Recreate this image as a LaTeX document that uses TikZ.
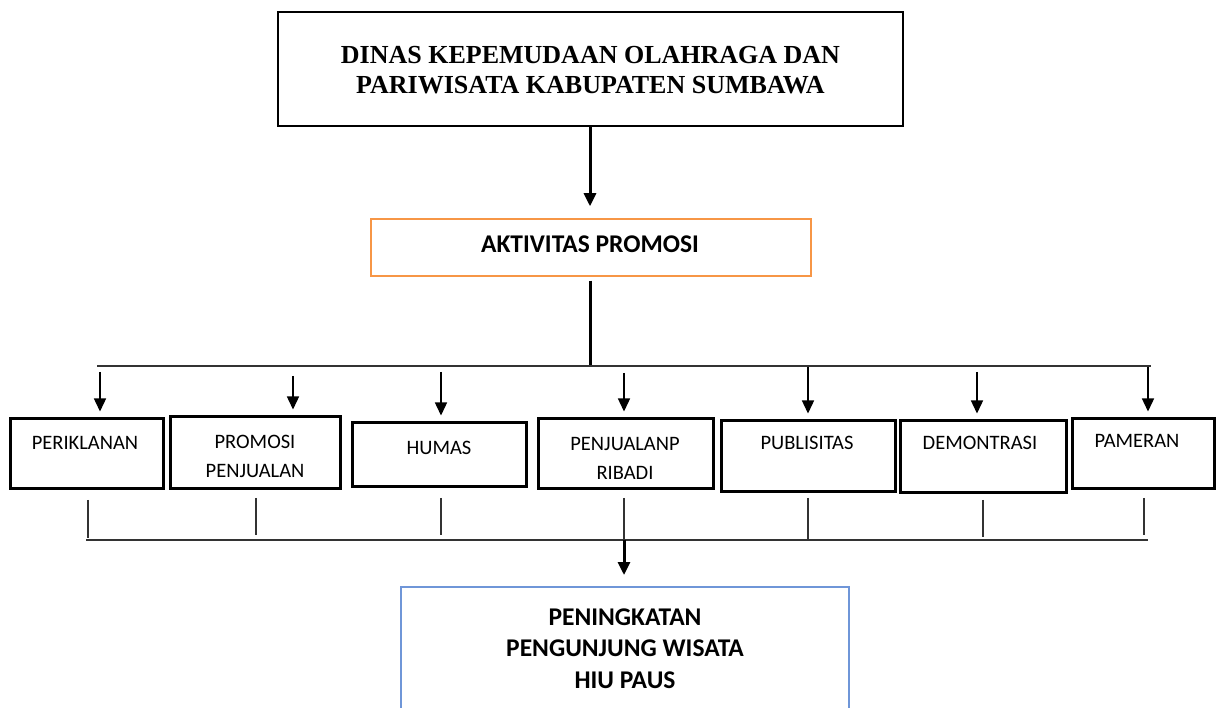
\documentclass[tikz,border=0pt]{standalone}
\usepackage{fontspec}
\setmainfont{Liberation Serif}
\newfontfamily\calfont{Carlito}
\usetikzlibrary{arrows.meta}
\definecolor{orangeb}{RGB}{247,150,70}
\definecolor{blueb}{RGB}{111,150,216}
\tikzset{
  boxk/.style={draw=black, line width=3pt, inner sep=0pt},
  lbl/.style={font=\calfont\fontsize{20.5}{29}\selectfont, align=center, anchor=base, inner sep=0pt},
  blbl/.style={font=\calfont\bfseries\fontsize{25.5}{31.5}\selectfont, align=center, anchor=base, inner sep=0pt},
  thin/.style={line width=1.4pt, draw=black!80},
  arr/.style={line width=1.4pt, -{Triangle[length=13pt,width=12pt]}, shorten >=6pt},
  thickarr/.style={line width=3pt, -{Triangle[length=13pt,width=12pt]}},
}
\begin{document}
\begin{tikzpicture}[x=1pt,y=-1pt]
\useasboundingbox (0,0) rectangle (1219,708);
\clip (0,0) rectangle (1219,708);
% top box
\node[draw=black, line width=1.5pt, minimum width=625pt, minimum height=114pt, inner sep=0pt] (top) at (590.5,69) {};
\node[font=\bfseries\fontsize{26}{30}\selectfont, align=center, inner sep=0pt] (toptext) at (590.5,70.5)
  {DINAS KEPEMUDAAN OLAHRAGA DAN\\PARIWISATA KABUPATEN SUMBAWA};
% aktivitas
\node[draw=orangeb, line width=1.5pt, minimum width=440pt, minimum height=57pt, inner sep=0pt] (akt) at (591,247.5) {};
\node[blbl] (akttext) at (590,252.5) {AKTIVITAS PROMOSI};
% boxes
\node[boxk, minimum width=153pt, minimum height=70pt] (b1) at (86.5,454) {};
\node[boxk, minimum width=170pt, minimum height=72pt] (b2) at (255,453) {};
\node[boxk, minimum width=174pt, minimum height=64pt] (b3) at (439,455) {};
\node[boxk, minimum width=175pt, minimum height=70pt] (b4) at (625.5,454) {};
\node[boxk, minimum width=174pt, minimum height=71pt] (b5) at (808,456.5) {};
\node[boxk, minimum width=166pt, minimum height=72pt] (b6) at (983,457) {};
\node[boxk, minimum width=142pt, minimum height=70pt] (b7) at (1143,454) {};
\node[lbl] at (85,450) {PERIKLANAN};
\node[lbl] at (255,478) {PROMOSI\\PENJUALAN};
\node[lbl] at (439,455) {HUMAS};
\node[lbl] at (625,480) {PENJUALANP\\RIBADI};
\node[lbl] at (807,450) {PUBLISITAS};
\node[lbl] at (980,450) {DEMONTRASI};
\node[lbl] at (1137,448) {PAMERAN};
% bottom box
\node[draw=blueb, line width=1.5pt, minimum width=448pt, minimum height=160pt, inner sep=0pt, anchor=north] (bot) at (625,586) {};
\node[blbl] at (625,688) {PENINGKATAN\\PENGUNJUNG WISATA\\HIU PAUS};
% coordinates
\coordinate (t0) at (590,126);
\coordinate (hl) at (97,366);
\coordinate (hr) at (1151,366);
\coordinate (hc) at (590,366);
\coordinate (bl) at (86,540);
\coordinate (br) at (1148,540);
\coordinate (bc) at (624,540);
% connectors
\draw[thickarr] (top.south -| t0) -- ([yshift=12pt]akt.north -| t0);
\draw[line width=3pt] (akt.south -| hc) ++(0,4) -- (hc);
\draw[thin] (hl) -- (hr);
\draw[arr] (100,372) -- (b1.north -| 100,0);
\draw[arr] (293,376) -- (b2.north -| 293,0);
\draw[arr] (441,372) -- (b3.north -| 441,0);
\draw[arr] (624,373) -- (b4.north -| 624,0);
\draw[arr] (808,367) -- (b5.north -| 808,0);
\draw[arr] (977,372) -- (b6.north -| 977,0);
\draw[arr] (1148,367) -- (b7.north -| 1148,0);
\draw[thin] (bl) -- (br);
\draw[thin] (88,500) -- (88,538);
\draw[thin] (256,498) -- (256,535);
\draw[thin] (441,498) -- (441,535);
\draw[thin] (624,498) -- (bc);
\draw[thin] (808,498) -- (808,540);
\draw[thin] (983,500) -- (983,537);
\draw[thin] (1144,498) -- (1144,535);
\draw[thickarr] (bc) -- ([yshift=11pt]bot.north -| bc);
\end{tikzpicture}
\end{document}
